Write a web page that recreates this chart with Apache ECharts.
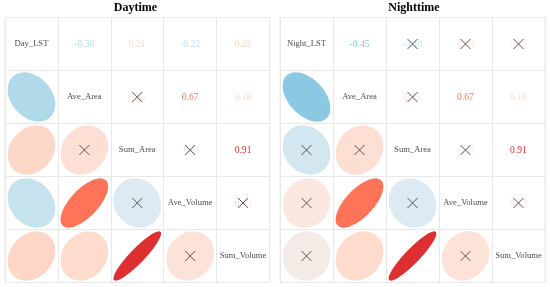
<!DOCTYPE html>
<html><head><meta charset="utf-8">
<script src="https://cdn.jsdelivr.net/npm/echarts@6/dist/echarts.min.js"></script>
<style>html,body{margin:0;padding:0;background:#fff}#c{width:550px;height:287px}</style>
</head><body><div id="c"></div>
<script>
// Variable names (diagonal labels)
const dayVars = ['Day_LST','Ave_Area','Sum_Area','Ave_Volume','Sum_Volume'];
const nightVars = ['Night_LST','Ave_Area','Sum_Area','Ave_Volume','Sum_Volume'];
const titles = ['Daytime','Nighttime'];

// Correlations of each variable with the ones after it
const dayLST   = [-0.30, 0.21, -0.22, 0.22];
const nightLST = [-0.45, -0.16, 0.08, 0.03];
const aveArea  = [0.15, 0.67, 0.18];
const sumArea  = [-0.11, 0.91];
const aveVolume = [0.13];
// Significance flags (false -> crossed out)
const daySig   = [true, true, true, true];
const nightSig = [true, false, false, false];
const aveAreaSig = [false, true, true];
const sumAreaSig = [false, true];
const aveVolumeSig = [false];

function buildCells(firstRow, firstSig){
  const rows = [firstRow, aveArea, sumArea, aveVolume];
  const sigs = [firstSig, aveAreaSig, sumAreaSig, aveVolumeSig];
  const cells = [];
  for (let i=0;i<5;i++) cells.push([i,i,1,1]);
  rows.forEach((row,i)=>{
    row.forEach((r,k)=>{
      const j = i+1+k;
      const s = sigs[i][k]?1:0;
      cells.push([i,j,r,s]); // lower triangle: ellipse
      cells.push([j,i,r,s]); // upper triangle: number
    });
  });
  return cells;
}

const stops = [
  [-1.0,[42,120,180]],[-0.5,[126,194,222]],[-0.3,[176,218,234]],[-0.2,[202,228,238]],
  [-0.1,[222,236,243]],[0,[240,236,234]],[0.1,[252,230,220]],[0.2,[253,218,202]],
  [0.5,[254,158,128]],[0.67,[255,116,88]],[0.91,[221,47,48]],[1.0,[190,20,40]]
];
function colorOf(r){
  for (let i=0;i<stops.length-1;i++){
    const a=stops[i], b=stops[i+1];
    if (r>=a[0] && r<=b[0]){
      const t=(r-a[0])/(b[0]-a[0]);
      const c=a[1].map((v,k)=>Math.round(v+(b[1][k]-v)*t));
      return 'rgb('+c.join(',')+')';
    }
  }
  return '#ccc';
}

function makeRender(vars){
  return function(params, api){
    const x=api.value(0), y=api.value(1), r=api.value(2), sig=api.value(3);
    const c=api.coord([x,y]); const sz=api.size([1,1]);
    const w=sz[0], h=sz[1];
    const children=[];
    if (x===y){
      children.push({type:'text', style:{text:vars[x], x:c[0], y:c[1], align:'center', verticalAlign:'middle',
        font:'8.6px "Liberation Serif", serif', fill:'#4d4d4d'}});
    } else if (x<y){
      const a=Math.acos(r); const pts=[];
      for (let n=0;n<99;n++){
        const k=2*Math.PI*n/98;
        pts.push([c[0]+Math.cos(k+a/2)/2*0.9*w, c[1]-Math.cos(k-a/2)/2*0.93*h]);
      }
      children.push({type:'polygon', shape:{points:pts}, style:{fill:colorOf(r)}});
    } else {
      children.push({type:'text', style:{text:r.toFixed(2), x:c[0], y:c[1], align:'center', verticalAlign:'middle',
        font:'9.6px "Liberation Serif", serif', fill:colorOf(r)}});
    }
    if (x!==y && !sig){
      const d=5;
      children.push({type:'line', shape:{x1:c[0]-d,y1:c[1]-d,x2:c[0]+d,y2:c[1]+d}, style:{stroke:'#555',lineWidth:1}});
      children.push({type:'line', shape:{x1:c[0]-d,y1:c[1]+d,x2:c[0]+d,y2:c[1]-d}, style:{stroke:'#555',lineWidth:1}});
    }
    return {type:'group', children};
  };
}

const grids=[{left:5,top:17.5,width:264.5,height:265},{left:280,top:17.5,width:265,height:265}];
const titleX=[135.5,414];
const varSets=[dayVars,nightVars];
const cellSets=[buildCells(dayLST,daySig), buildCells(nightLST,nightSig)];

const option={
  backgroundColor:'#fff',
  animation:false,
  graphic: titles.map((t,i)=>({type:'text', x:titleX[i], y:8, style:{text:t, align:'center', verticalAlign:'middle',
    font:'bold 12px "Liberation Serif", serif', fill:'#000'}})),
  grid: grids.map(g=>Object.assign({show:true, borderColor:'#e8e8e8', borderWidth:1, backgroundColor:'#fff'},g)),
  xAxis: varSets.map((v,i)=>({type:'category', data:v, gridIndex:i, axisLabel:{show:false}, axisLine:{show:false}, axisTick:{show:false},
    splitLine:{show:true, interval:0, lineStyle:{color:'#e8e8e8', width:1}}})),
  yAxis: varSets.map((v,i)=>({type:'category', data:v, gridIndex:i, inverse:true, axisLabel:{show:false}, axisLine:{show:false}, axisTick:{show:false},
    splitLine:{show:true, interval:0, lineStyle:{color:'#e8e8e8', width:1}}})),
  series: cellSets.map((cells,i)=>({type:'custom', xAxisIndex:i, yAxisIndex:i, data:cells, renderItem:makeRender(varSets[i])}))
};
echarts.init(document.getElementById('c')).setOption(option);
</script></body></html>
